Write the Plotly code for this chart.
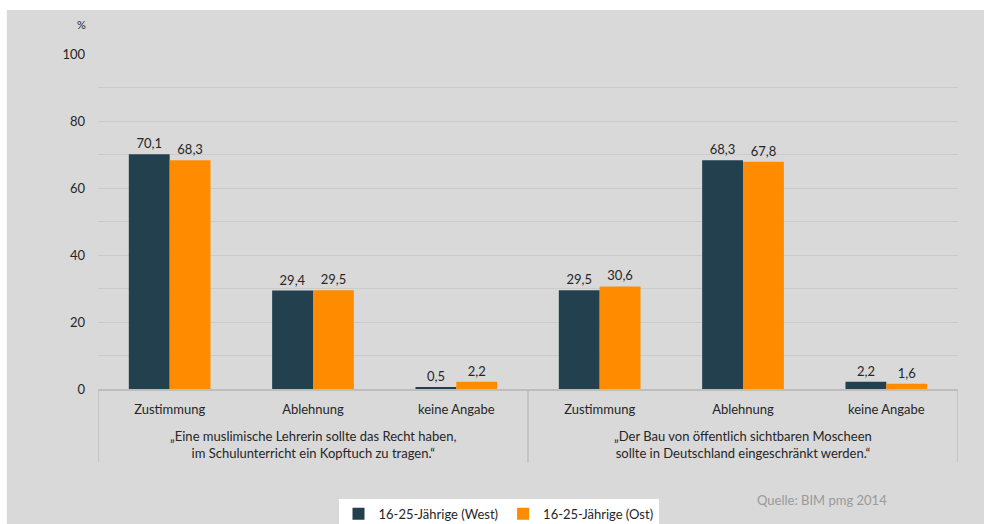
import plotly.graph_objects as go

# Survey statements (group level) and answer categories
statements = [
    "„Eine muslimische Lehrerin sollte das Recht haben,<br>im Schulunterricht ein Kopftuch zu tragen.“",
    "„Der Bau von öffentlich sichtbaren Moscheen<br>sollte in Deutschland eingeschränkt werden.“",
]
answers = ["Zustimmung", "Ablehnung", "keine Angabe"]

# Shares in percent
west = [70.1, 29.4, 0.5, 29.5, 68.3, 2.2]
ost = [68.3, 29.5, 2.2, 30.6, 67.8, 1.6]

series_names = ["16-25-Jährige (West)", "16-25-Jährige (Ost)"]
colors = ["#23404f", "#fe8b00"]

n_ans = len(answers)
x_pos = list(range(n_ans * len(statements)))
tick_text = answers * len(statements)

FONT = "Lato"
TXT = "#262626"
LINE = "#bdbdbd"

fig = go.Figure()
for name, vals, col in zip(series_names, [west, ost], colors):
    fig.add_trace(go.Bar(
        x=x_pos, y=vals, name=name,
        marker=dict(color=col, line=dict(width=0)),
        texttemplate="%{y:.1f}", textposition="outside",
        textfont=dict(family=FONT, size=13, color=TXT),
        cliponaxis=False,
    ))

shapes = [
    # grey chart panel
    dict(type="rect", xref="paper", yref="paper",
         x0=-0.106, x1=1.04, y0=-0.45, y1=1.1313,
         fillcolor="#d9d9d9", line=dict(width=0), layer="below"),
]
# vertical dividers between the two statement groups
for g in range(len(statements) + 1):
    xd = g * n_ans - 0.5
    shapes.append(dict(type="line", xref="x", yref="paper",
                       x0=xd, x1=xd, y0=0, y1=-0.218,
                       line=dict(color=LINE, width=1.5)))

annotations = [
    dict(text="%", xref="paper", yref="paper", x=-0.019, y=1.088,
         xanchor="center", yanchor="middle", showarrow=False,
         font=dict(family=FONT, size=11, color=TXT)),
    dict(text="Quelle: BIM pmg 2014", xref="paper", yref="paper",
         x=0.842, y=-0.331, xanchor="center", yanchor="middle",
         showarrow=False, font=dict(family=FONT, size=13, color="#9a9a9a")),
]
# statement labels centred under each group
for g, s in enumerate(statements):
    annotations.append(dict(
        text=s, xref="x", yref="paper", x=g * n_ans + (n_ans - 1) / 2, y=-0.167,
        xanchor="center", yanchor="middle", showarrow=False,
        font=dict(family=FONT, size=13, color=TXT)))

fig.update_layout(
    width=984, height=524,
    margin=dict(l=98, r=26, t=54, b=135),
    paper_bgcolor="white",
    plot_bgcolor="rgba(0,0,0,0)",
    separators=",.",
    barmode="group",
    bargap=0.43,
    bargroupgap=0,
    font=dict(family=FONT, size=13, color=TXT),
    showlegend=True,
    legend=dict(
        orientation="h", xref="paper", yref="container",
        x=0.4657, xanchor="center", y=0.048, yanchor="top",
        bgcolor="white", font=dict(family=FONT, size=13, color=TXT),
        itemclick=False, itemdoubleclick=False,
    ),
    shapes=shapes,
    annotations=annotations,
)

fig.update_xaxes(
    range=[-0.5, len(x_pos) - 0.5],
    tickmode="array", tickvals=x_pos, ticktext=tick_text,
    showline=True, linecolor=LINE, linewidth=1.5,
    showgrid=False, zeroline=False, ticks="",
    ticklabelstandoff=8,
    tickfont=dict(family=FONT, size=13, color=TXT),
)
fig.update_yaxes(
    range=[0, 100], dtick=20, tick0=0,
    showgrid=True, gridcolor="#cbcbcb", gridwidth=1,
    minor=dict(dtick=10, showgrid=True, gridcolor="#cbcbcb", gridwidth=1),
    zeroline=False, showline=False, ticks="",
    ticklabelstandoff=12,
    tickfont=dict(family=FONT, size=13, color=TXT),
)

fig.write_html("out.html")
